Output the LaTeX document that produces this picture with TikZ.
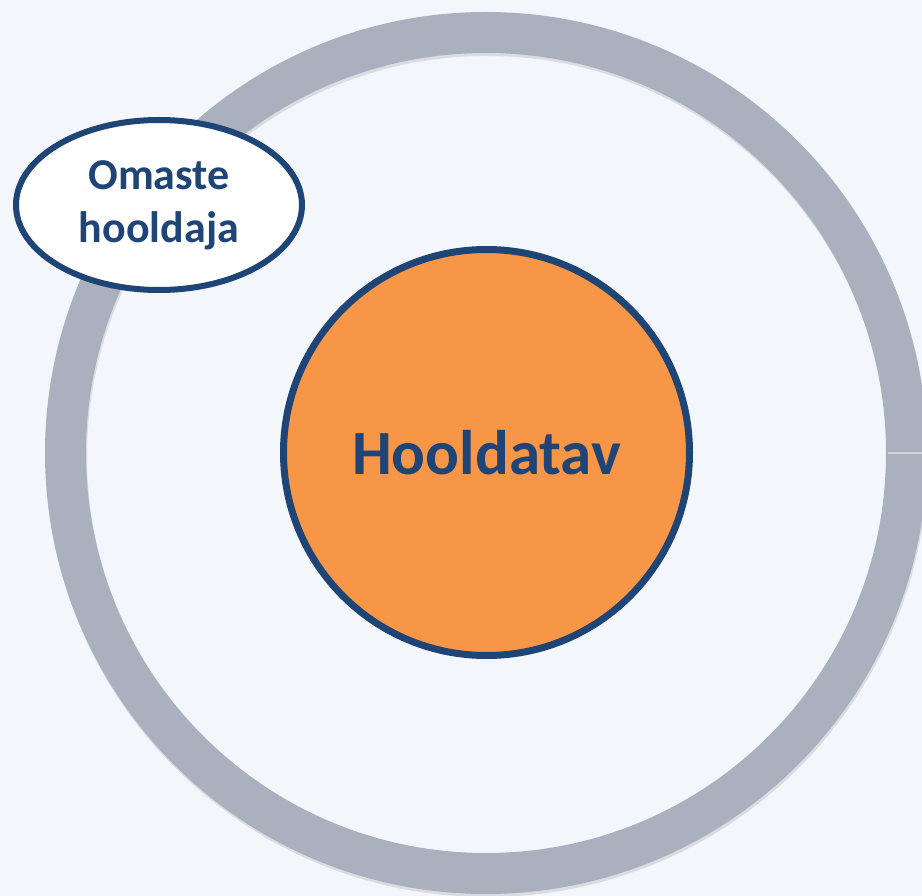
\documentclass[tikz,border=0pt]{standalone}
\usepackage{fontspec}
\setmainfont{Carlito}
\usetikzlibrary{shapes.geometric,shadows}
\definecolor{bgcol}{HTML}{F3F6FB}
\definecolor{ringcol}{HTML}{AAB0BD}
\definecolor{navy}{HTML}{1F4577}
\definecolor{orng}{HTML}{F79646}
\begin{document}
\begin{tikzpicture}[x=1pt,y=-1pt,
  ringstyle/.style={circle, draw=ringcol, line width=41pt, minimum size=841pt, inner sep=0pt},
  ringshadow/.style={circle, draw=black, draw opacity=0.10, line width=41pt, minimum size=841pt, inner sep=0pt},
  corebox/.style={circle, draw=navy, fill=orng, line width=7pt, minimum size=406pt, inner sep=0pt,
    text=navy, font=\bfseries\fontsize{63}{74}\selectfont,
    drop shadow={shadow xshift=1pt, shadow yshift=-3pt, opacity=0.18}},
  carerbox/.style={ellipse, draw=navy, fill=white, line width=6pt, minimum width=286pt, minimum height=170pt, inner sep=0pt,
    text=navy, align=center, font=\bfseries\fontsize{44}{53}\selectfont,
    drop shadow={shadow xshift=1pt, shadow yshift=-3pt, opacity=0.18}}]
\useasboundingbox (0,0) rectangle (922,896);
\fill[bgcol] (0,0) rectangle (922,896);
\node[ringshadow] (ringsh) at (487,456) {};
\node[ringstyle] (ring) at (486,453) {};
\coordinate (seamA) at (888,453);
\coordinate (seamB) at (922,453);
\draw[ringcol!55!white, line width=1.2pt] (seamA) -- (seamB);
\node[corebox] (core) at (486.5,452.5) {Hooldatav};
\node[carerbox] (carer) at (159,205) {Omaste\\hooldaja};
\end{tikzpicture}
\end{document}
